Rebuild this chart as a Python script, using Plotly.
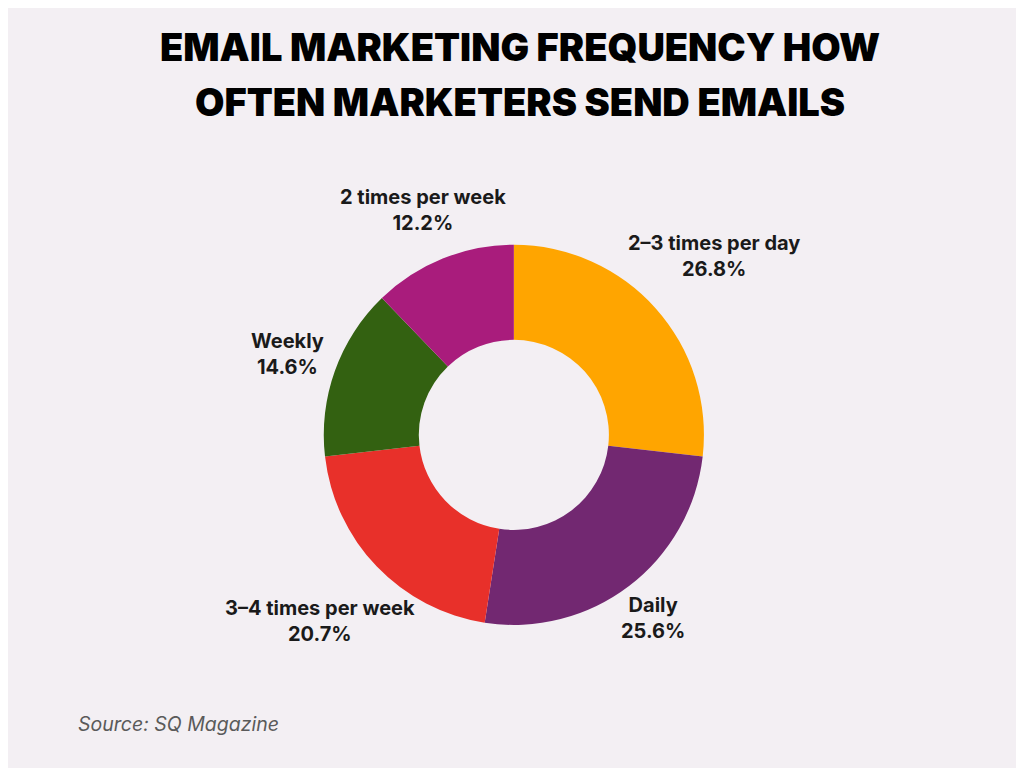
import numpy as np
import plotly.graph_objects as go

# email send frequency shares (%)
labels = ["2\u20133 times per day", "Daily", "3\u20134 times per week", "Weekly", "2 times per week"]
values = [26.8, 25.6, 20.7, 14.6, 12.2]
colors = ["#FFA500", "#722871", "#E8302A", "#336111", "#A91C7C"]

TITLE_LINES = ["EMAIL MARKETING FREQUENCY HOW", "OFTEN MARKETERS SEND EMAILS"]
SOURCE = "Source: SQ Magazine"

W, H = 1024, 768
DOM_X = [0.104, 0.884]
DOM_Y = [0.1967, 0.6917]
CHAR_W = 10.0  # rough label width per character, px

fig = go.Figure()

fig.add_trace(go.Pie(
    labels=labels,
    values=values,
    hole=0.5,
    sort=False,
    direction="clockwise",
    rotation=0,
    marker=dict(colors=colors, line=dict(width=0)),
    textinfo="none",
    showlegend=False,
    domain=dict(x=DOM_X, y=DOM_Y),
    hoverinfo="label+percent",
))

# outside labels along each slice's mid angle, pushed out more for wide labels
cx = (DOM_X[0] + DOM_X[1]) / 2
cy = (DOM_Y[0] + DOM_Y[1]) / 2
radius = min((DOM_X[1] - DOM_X[0]) * W, (DOM_Y[1] - DOM_Y[0]) * H) / 2
total = sum(values)
cum = 0
annotations = []
for lab, val in zip(labels, values):
    mid = (cum + val / 2) / total * 2 * np.pi
    cum += val
    w_est = len(lab) * CHAR_W
    dist = radius * 1.15 + 0.39 * w_est * abs(np.sin(mid))
    dx = np.sin(mid) * dist
    dy = np.cos(mid) * dist
    annotations.append(dict(
        text=f"<b>{lab}</b><br><b>{val}%</b>",
        x=cx + dx / W, y=cy + dy / H, xref="paper", yref="paper",
        xanchor="center", yanchor="middle", showarrow=False,
        font=dict(family="Inter", size=20, color="#1a1a1a"),
    ))

# two-line title, spaced like the original
for i, line in enumerate(TITLE_LINES):
    annotations.append(dict(
        text=line,
        x=0.5, y=0.949 - i * 0.0716, xref="paper", yref="paper",
        xanchor="center", yanchor="middle", showarrow=False,
        font=dict(family="Inter", size=38, color="#000000", weight=900),
    ))

annotations.append(dict(
    text=SOURCE,
    x=0.066, y=0.0677, xref="paper", yref="paper",
    xanchor="left", yanchor="middle", showarrow=False,
    font=dict(family="Inter", size=19.5, color="#5a5a5a", style="italic"),
))

fig.update_layout(
    width=W, height=H,
    margin=dict(l=0, r=0, t=0, b=0, autoexpand=False),
    paper_bgcolor="#F3EFF3",
    plot_bgcolor="#F3EFF3",
    annotations=annotations,
)

fig.write_html("out.html")
